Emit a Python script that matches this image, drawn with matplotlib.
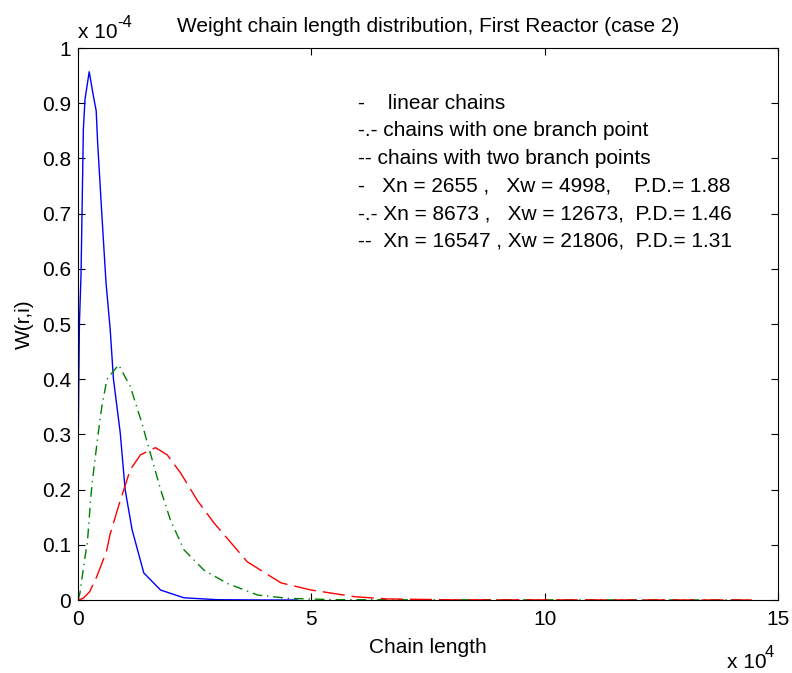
import matplotlib

matplotlib.use("Agg")
import matplotlib.pyplot as plt
from matplotlib.ticker import FuncFormatter

# chain length (r) and weight fraction W(r,i)
linear_x = [0, 300, 650, 1150, 1500, 2400, 3300, 3900, 4200, 5100, 6000, 6900,
            7600, 9050, 10100, 11600, 14100, 17700, 22700, 30000, 40000, 47000]
linear_w = [0.25e-4, 0.50e-4, 0.59e-4, 0.853e-4, 0.907e-4, 0.957e-4, 0.913e-4,
            0.886e-4, 0.83e-4, 0.70e-4, 0.575e-4, 0.49e-4, 0.40e-4, 0.303e-4,
            0.20e-4, 0.127e-4, 0.049e-4, 0.018e-4, 0.004e-4, 0.0005e-4, 0.0, 0.0]

one_branch_x = [0, 400, 1500, 2000, 2600, 3000, 4300, 5100, 6200, 8700, 11200,
                13700, 15500, 17700, 19800, 22700, 27000, 32000, 38500, 45000,
                55000, 144000]
one_branch_w = [0.0, 0.012e-4, 0.078e-4, 0.103e-4, 0.17e-4, 0.21e-4, 0.30e-4,
                0.35e-4, 0.40e-4, 0.426e-4, 0.387e-4, 0.32e-4, 0.266e-4, 0.20e-4,
                0.145e-4, 0.091e-4, 0.054e-4, 0.03e-4, 0.009e-4, 0.003e-4,
                0.0005e-4, 0.0]

two_branch_x = [0, 1100, 2500, 4000, 6100, 6900, 9050, 10400, 11200, 13400,
                16600, 19100, 22000, 25600, 29100, 36300, 43500, 50000, 59300,
                66000, 80000, 144400]
two_branch_w = [0.0, 0.003e-4, 0.015e-4, 0.042e-4, 0.088e-4, 0.12e-4, 0.18e-4,
                0.215e-4, 0.236e-4, 0.263e-4, 0.276e-4, 0.263e-4, 0.23e-4,
                0.18e-4, 0.14e-4, 0.069e-4, 0.031e-4, 0.018e-4, 0.006e-4,
                0.002e-4, 0.0003e-4, 0.0]

note_lines = [
    "-    linear chains",
    "-.- chains with one branch point",
    "-- chains with two branch points",
    "-   Xn = 2655 ,   Xw = 4998,    P.D.= 1.88",
    "-.- Xn = 8673 ,   Xw = 12673,  P.D.= 1.46",
    "--  Xn = 16547 , Xw = 21806,  P.D.= 1.31",
]
note_y = [0.90e-4, 0.85e-4, 0.80e-4, 0.75e-4, 0.70e-4, 0.65e-4]

x_ticks = [0, 50000, 100000, 150000]
y_ticks = [0, 0.1e-4, 0.2e-4, 0.3e-4, 0.4e-4, 0.5e-4, 0.6e-4, 0.7e-4, 0.8e-4, 0.9e-4, 1e-4]


def main() -> None:
    plt.rcParams["font.family"] = ["Liberation Sans", "DejaVu Sans"]
    fs = 15
    W, H = 792, 673
    fig = plt.figure(figsize=(W / 100, H / 100), dpi=100)
    ax = fig.add_axes([78 / W, 1 - 600 / H, 700 / W, 552 / H])

    ax.plot(linear_x, linear_w, color=(0, 0, 1), lw=1.0)
    ax.plot(one_branch_x, one_branch_w, color=(0, 0.5, 0), lw=1.0,
            dashes=(7, 3.5, 1, 3.5))
    ax.plot(two_branch_x, two_branch_w, color=(1, 0, 0), lw=1.0, dashes=(16, 5))

    ax.set_xlim(0, 150000)
    ax.set_ylim(0, 1e-4)
    ax.set_xticks(x_ticks)
    ax.set_yticks(y_ticks)
    ax.xaxis.set_major_formatter(FuncFormatter(lambda v, p: f"{v / 1e4:g}"))
    ax.yaxis.set_major_formatter(FuncFormatter(lambda v, p: f"{round(v / 1e-4, 1):g}"))
    ax.tick_params(direction="in", top=True, right=True, length=5, width=0.8,
                   labelsize=fs, pad=5, colors="black")
    ax.tick_params(axis="x", pad=7)
    for s in ax.spines.values():
        s.set_linewidth(0.8)

    for txt, yv in zip(note_lines, note_y):
        ax.text(60000, yv, txt, fontsize=fs, va="center", ha="left")

    ax.set_xlabel("Chain length", fontsize=fs, labelpad=7)
    ax.set_ylabel("W(r,i)", fontsize=fs, labelpad=6)
    fig.text(428 / W, 1 - 26 / H, "Weight chain length distribution, First Reactor (case 2)",
             fontsize=fs, ha="center", va="center")

    # axis multipliers, MATLAB style
    fig.text(78 / W, 1 - 38 / H, "x 10", fontsize=fs, ha="left", va="baseline")
    fig.text(117 / W, 1 - 27 / H, "-4", fontsize=fs * 0.8, ha="left", va="baseline")
    fig.text(727 / W, 1 - 668 / H, "x 10", fontsize=fs, ha="left", va="baseline")
    fig.text(765 / W, 1 - 657 / H, "4", fontsize=fs * 0.8, ha="left", va="baseline")

    fig.savefig("out.png", dpi=100)
    plt.close(fig)
    return None


if __name__ == "__main__":
    main()
